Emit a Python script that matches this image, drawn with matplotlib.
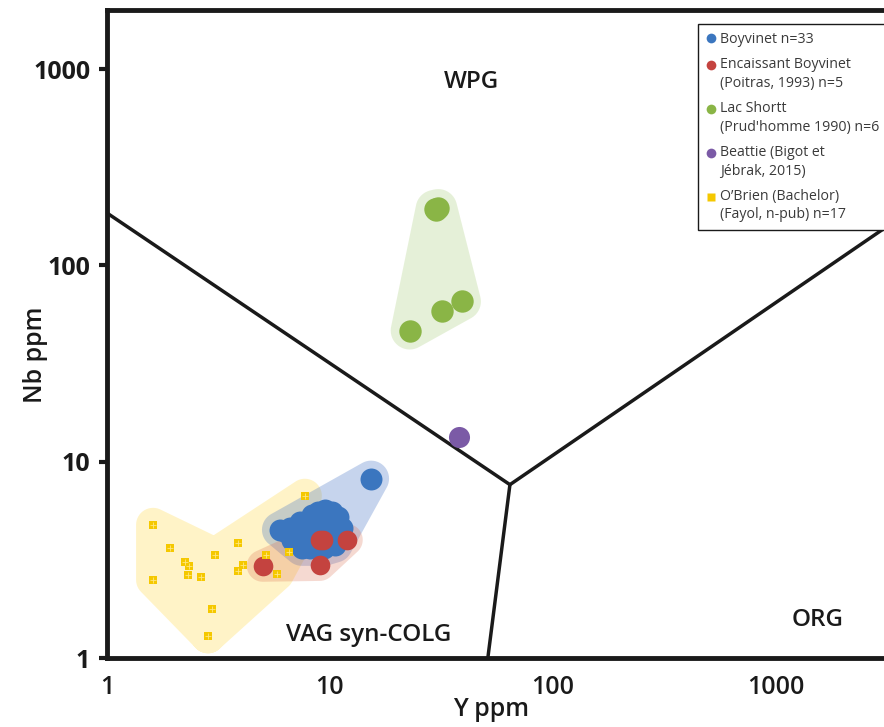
import numpy as np
import matplotlib.pyplot as plt
from matplotlib.path import Path
from matplotlib.patches import PathPatch
from matplotlib.lines import Line2D
from matplotlib.legend_handler import HandlerLine2D

# ---- data (Y ppm, Nb ppm) ----
boyvinet_y = [5.97, 6.62, 7.33, 7.72, 8.13, 8.83, 9.50, 10.2, 9.20, 9.80, 10.6,
              11.1, 10.0, 9.02, 8.13, 7.49, 8.56, 10.5, 11.3, 7.33, 6.76, 9.60,
              8.83, 7.72, 8.30, 10.0, 10.9, 9.40, 7.04, 6.35, 8.65, 10.4, 15.3]
boyvinet_nb = [4.50, 4.60, 4.94, 4.25, 5.06, 5.56, 5.69, 5.56, 5.06, 4.60, 4.94,
               4.25, 4.00, 3.78, 3.64, 3.64, 4.50, 3.78, 4.60, 4.00, 4.00, 5.24,
               4.14, 4.60, 5.37, 4.50, 5.24, 3.64, 4.34, 4.40, 4.83, 4.14, 8.2]

encaissant_y = [5.0, 9.0, 9.3, 11.9, 9.0]
encaissant_nb = [2.95, 4.0, 4.0, 4.0, 2.98]

shortt_y = [29.5, 30.6, 30.0, 39.1, 31.8, 22.8]
shortt_nb = [194, 196, 191, 65.5, 58.3, 46.6]

beattie_y = [37.9]
beattie_nb = [13.3]

obrien_y = [7.72, 1.61, 1.92, 2.24, 2.33, 2.31, 2.64, 3.05, 3.87, 5.16, 6.55,
            4.07, 3.87, 5.79, 1.61, 2.96, 2.84]
obrien_nb = [6.71, 4.77, 3.64, 3.09, 2.95, 2.65, 2.59, 3.36, 3.86, 3.36, 3.47,
             2.98, 2.78, 2.68, 2.50, 1.78, 1.29]

# discrimination boundaries
wpg_x = [1, 64.2]
wpg_y = [185, 7.64]
org_x = [64.2, 4000]
org_y = [7.64, 190]
syn_x = [64.2, 51.1]
syn_y = [7.64, 1]

labels = ['Boyvinet n=33',
          'Encaissant Boyvinet\n(Poitras, 1993) n=5',
          'Lac Shortt\n(Prud\'homme 1990) n=6',
          'Beattie (Bigot et\nJébrak, 2015)',
          'O\u2019Brien (Bachelor)\n(Fayol, n-pub) n=17']

blue = '#3b76bf'
red = '#c4433f'
green = '#8ab546'
purple = '#7b5aa6'
yellow = '#f5c800'

FONT = ['Open Sans', 'DejaVu Sans']

fig = plt.figure(figsize=(8.84, 7.27), dpi=100)
ax = fig.add_axes([0.1210, 0.0949, 0.9084, 0.8913])
ax.set_xscale('log')
ax.set_yscale('log')
ax.set_xlim(1, 4000)
ax.set_ylim(1, 2000)


def hull(pts):
    pts = sorted(map(tuple, pts))
    def cross(o, a, b):
        return (a[0] - o[0]) * (b[1] - o[1]) - (a[1] - o[1]) * (b[0] - o[0])
    lower, upper = [], []
    for p in pts:
        while len(lower) >= 2 and cross(lower[-2], lower[-1], p) <= 0:
            lower.pop()
        lower.append(p)
    for p in reversed(pts):
        while len(upper) >= 2 and cross(upper[-2], upper[-1], p) <= 0:
            upper.pop()
        upper.append(p)
    return np.array(lower[:-1] + upper[:-1])


def envelope(groups, r):
    # rounded convex hull(s) built in pixel space, returned as one path in data coords
    t = np.linspace(0, 2 * np.pi, 48, endpoint=False)
    ring = np.column_stack([np.cos(t), np.sin(t)]) * r
    verts, codes = [], []
    for xs, ys in groups:
        p = ax.transData.transform(np.column_stack([xs, ys]))
        cloud = (p[:, None, :] + ring[None, :, :]).reshape(-1, 2)
        h = ax.transData.inverted().transform(hull(cloud))
        verts += list(h) + [h[0]]
        codes += [Path.MOVETO] + [Path.LINETO] * (len(h) - 1) + [Path.CLOSEPOLY]
    return Path(verts, codes)


oy = np.array(obrien_y)
onb = np.array(obrien_nb)
left = oy <= 3.1
arm = oy >= 2.8
ax.add_patch(PathPatch(envelope([(oy[left], onb[left]), (oy[arm], onb[arm])], 17),
                       fc=(1.0, 0.8, 0.0, 0.22), ec='none', zorder=1))
ax.add_patch(PathPatch(envelope([(boyvinet_y, boyvinet_nb)], 18),
                       fc=(0.27, 0.45, 0.77, 0.30), ec='none', zorder=1))
ax.add_patch(PathPatch(envelope([(encaissant_y, encaissant_nb)], 16),
                       fc=(0.86, 0.43, 0.31, 0.26), ec='none', zorder=1))
ax.add_patch(PathPatch(envelope([(shortt_y, shortt_nb)], 19),
                       fc=(0.55, 0.75, 0.31, 0.22), ec='none', zorder=1))

# boundaries
for bx, by in [(wpg_x, wpg_y), (org_x, org_y), (syn_x, syn_y)]:
    ax.plot(bx, by, color='#1a1a1a', lw=2.5, solid_capstyle='butt', zorder=2)

# points
ax.scatter(boyvinet_y, boyvinet_nb, s=250, color=blue, lw=0, zorder=3)
ax.scatter(encaissant_y, encaissant_nb, s=200, color=red, lw=0, zorder=4)
ax.scatter(shortt_y, shortt_nb, s=260, color=green, lw=0, zorder=3)
ax.scatter(beattie_y, beattie_nb, s=230, color=purple, lw=0, zorder=3)
ax.scatter(obrien_y, obrien_nb, s=28, marker='s', color=yellow, lw=0, zorder=5)
ax.scatter(obrien_y, obrien_nb, s=22, marker='+', color='#ffe680', lw=0.6, zorder=6)

# zone labels
zone_kw = dict(fontsize=17.5, fontweight='semibold', family=FONT, color='#1a1a1a',
               ha='center', va='center', zorder=7)
ax.text(43, 858, 'WPG', **zone_kw)
ax.text(15.0, 1.31, 'VAG syn-COLG', **zone_kw)
ax.text(1543, 1.56, 'ORG', **zone_kw)

# axes styling
for sp in ax.spines.values():
    sp.set_linewidth(3.5)
    sp.set_color('#1a1a1a')
ax.set_yticks([1, 10, 100, 1000])
ax.set_yticklabels(['1', '10', '100', '1000'], family=FONT, fontweight='bold',
                   fontsize=18, color='#1a1a1a')
ax.set_xticks([1, 10, 100, 1000])
ax.set_xticklabels(['1', '10', '100', '1000'], family=FONT, fontweight='semibold',
                   fontsize=18, color='#1a1a1a')
ax.minorticks_off()
ax.tick_params(axis='y', direction='out', length=6, width=3, pad=6, color='#1a1a1a')
ax.tick_params(axis='x', length=0, pad=12)

fig.text(36 / 884, 1 - 355 / 727, 'Nb ppm', rotation=90, ha='center', va='center',
         family=FONT, fontweight='semibold', fontsize=18, color='#1a1a1a')
fig.text(491 / 884, 1 - 710 / 727, 'Y ppm', ha='center', va='center',
         family=FONT, fontweight='semibold', fontsize=18, color='#1a1a1a')


class FirstLineHandler(HandlerLine2D):
    # put the marker next to the first line of a two-line label
    def __init__(self, shift, **kw):
        super().__init__(**kw)
        self.shift = shift

    def create_artists(self, legend, orig_handle, xdescent, ydescent, width, height,
                       fontsize, trans):
        return super().create_artists(legend, orig_handle, xdescent,
                                      ydescent - self.shift * fontsize, width, height,
                                      fontsize, trans)


handles = [
    Line2D([], [], ls='none', marker='o', ms=7, mfc=blue, mec='none'),
    Line2D([], [], ls='none', marker='o', ms=7, mfc=red, mec='none'),
    Line2D([], [], ls='none', marker='o', ms=7, mfc=green, mec='none'),
    Line2D([], [], ls='none', marker='o', ms=7, mfc=purple, mec='none'),
    Line2D([], [], ls='none', marker='s', ms=6, mfc=yellow, mec='none'),
]
hmap = {h: FirstLineHandler(1.3) for h, lab in zip(handles, labels) if '\n' in lab}
leg = ax.legend(handles, labels, loc='upper left', handler_map=hmap,
                bbox_to_anchor=(698 / 884, 1 - 24 / 727), bbox_transform=fig.transFigure,
                borderaxespad=0, prop={'family': FONT, 'size': 10.2},
                labelcolor='#3a3a3a', frameon=True, fancybox=False, framealpha=1,
                edgecolor='#1a1a1a', borderpad=0.55, labelspacing=0.75,
                handlelength=0.7, handletextpad=0.3)
for t in leg.get_texts():
    t.set_linespacing(1.3)
leg.get_frame().set_linewidth(1.0)
leg.set_zorder(10)

fig.savefig('out.png', dpi=100)
